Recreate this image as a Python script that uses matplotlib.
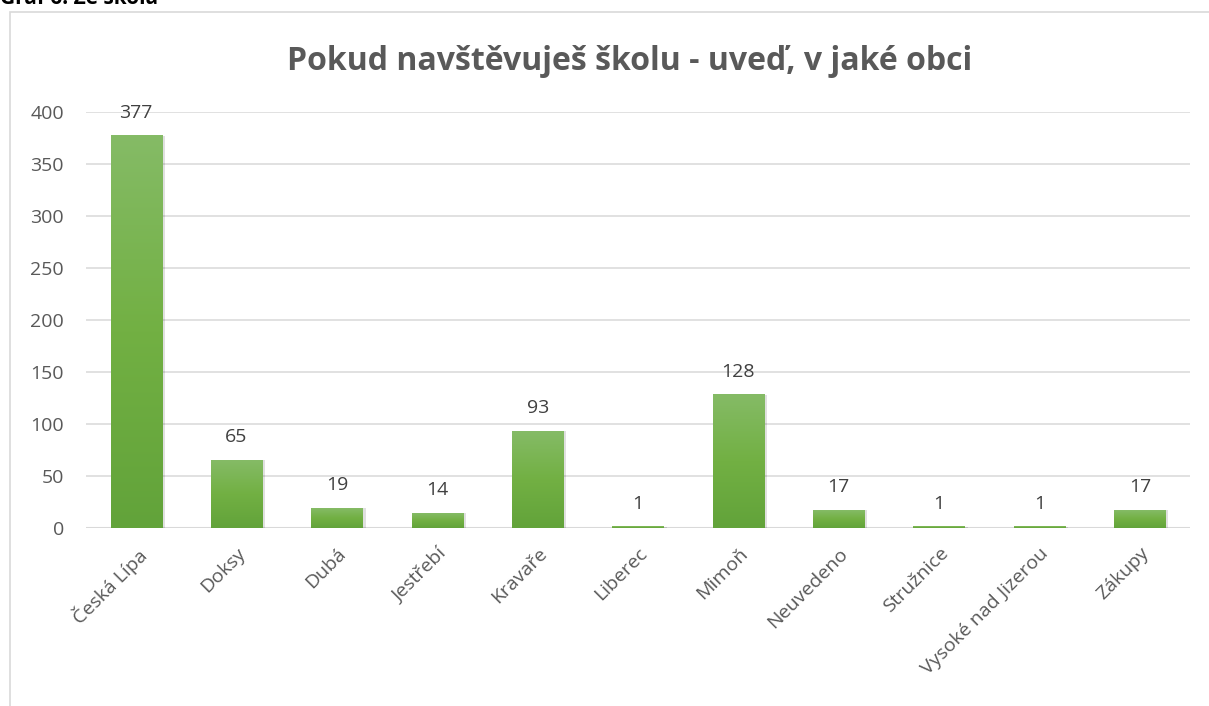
import matplotlib
matplotlib.use("Agg")
import matplotlib.pyplot as plt
import numpy as np
from matplotlib.colors import LinearSegmentedColormap
from matplotlib.patches import Rectangle

# data
obce = ["Česká Lípa", "Doksy", "Dubá", "Jestřebí", "Kravaře", "Liberec",
        "Mimoň", "Neuvedeno", "Stružnice", "Vysoké nad Jizerou", "Zákupy"]
pocty = [377, 65, 19, 14, 93, 1, 128, 17, 1, 1, 17]
yticks = [0, 50, 100, 150, 200, 250, 300, 350, 400]

title = "Pokud navštěvuješ školu - uveď, v jaké obci"
caption = "Graf 6: Ze škola"

plt.rcParams['font.family'] = ['Open Sans', 'DejaVu Sans']
txt = "#595959"
grid = "#d9d9d9"

fig = plt.figure(figsize=(12.09, 7.06), dpi=100)

# chart frame
fig.patches.append(Rectangle((10 / 1209, -0.1), 1.2, 1 - 12 / 706 + 0.1,
                             transform=fig.transFigure, fill=False,
                             edgecolor=grid, lw=1.2))
fig.text(0.0, 1.0 + 0.002, caption, fontsize=15, fontweight='bold',
         color='black', ha='left', va='center')

ax = fig.add_axes([86 / 1209, 1 - 527.7 / 706, (1190 - 86) / 1209, 416 / 706])
x = np.arange(len(obce))
bars = ax.bar(x, pocty, width=0.51, color='#70ad47', zorder=3)

# vertical gradient in each bar
cmap = LinearSegmentedColormap.from_list("g", ["#62a33a", "#72b043", "#85bb66"])
grad = np.linspace(0, 1, 256).reshape(-1, 1)
for b in bars:
    bx, bw, bh = b.get_x(), b.get_width(), b.get_height()
    # soft shadow
    ax.add_patch(Rectangle((bx + 0.03, 0), bw, bh, color='#000000',
                           alpha=0.12, zorder=2, lw=0))
    ax.imshow(grad, cmap=cmap, aspect='auto', origin='lower',
              extent=(bx, bx + bw, 0, bh), zorder=4)
    b.set_visible(False)

for xi, v in zip(x, pocty):
    ax.annotate(str(v), (xi, v), xytext=(0, 10), textcoords='offset points',
                ha='center', va='bottom', fontsize=14, color='#404040')

ax.set_xlim(-0.5, len(obce) - 0.5)
ax.set_ylim(0, 400)
ax.set_yticks(yticks)
ax.set_xticks(x)
ax.set_xticklabels(obce, rotation=45, ha='right', rotation_mode='anchor',
                   fontsize=14, color=txt)
ax.tick_params(axis='y', length=0, pad=16, labelsize=14, labelcolor=txt)
ax.tick_params(axis='x', length=0, pad=12)
ax.yaxis.grid(True, color=grid, lw=1.1, zorder=0)
ax.set_axisbelow(True)
for s in ax.spines.values():
    s.set_visible(False)
ax.axhline(0, color=grid, lw=1.5, zorder=1)

fig.text(630 / 1209, 1 - 61 / 706, title, fontsize=23, fontweight='bold',
         color=txt, ha='center', va='center')

fig.savefig("out.png", dpi=100)
